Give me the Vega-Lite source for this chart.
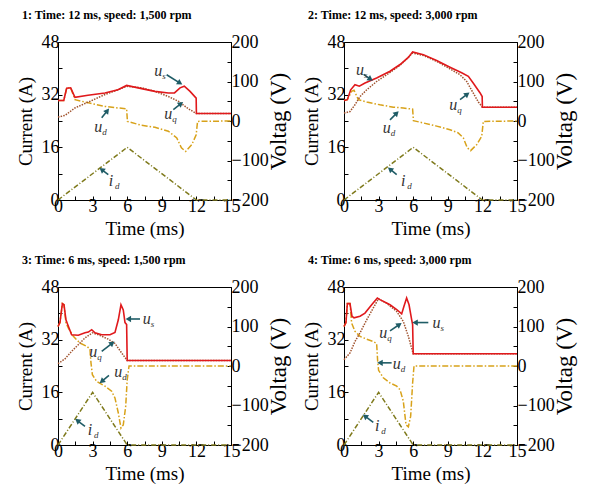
{
"$schema": "https://vega.github.io/schema/vega-lite/v6.json",
"padding": {"left": 15, "top": 8, "right": 4, "bottom": 4},
"background": "white",
"datasets": {
"cur": [
{"p":1,"t":0,"a":0},{"p":1,"t":6,"a":16},{"p":1,"t":12,"a":0},{"p":1,"t":15,"a":0},
{"p":2,"t":0,"a":0},{"p":2,"t":6,"a":16},{"p":2,"t":12,"a":0},{"p":2,"t":15,"a":0},
{"p":3,"t":0,"a":0},{"p":3,"t":3,"a":16},{"p":3,"t":6,"a":0},{"p":3,"t":15,"a":0},
{"p":4,"t":0,"a":0},{"p":4,"t":3,"a":16},{"p":4,"t":6,"a":0},{"p":4,"t":15,"a":0}
],
"volt": [
{"p":1,"s":"us","t":0,"v":52},{"p":1,"s":"us","t":0.5,"v":52},{"p":1,"s":"us","t":0.75,"v":83},{"p":1,"s":"us","t":1.1,"v":84},{"p":1,"s":"us","t":1.47,"v":60},{"p":1,"s":"us","t":2.6,"v":65},{"p":1,"s":"us","t":4.07,"v":71},{"p":1,"s":"us","t":5.2,"v":79},{"p":1,"s":"us","t":5.95,"v":90},{"p":1,"s":"us","t":7.25,"v":82},{"p":1,"s":"us","t":8.4,"v":75},{"p":1,"s":"us","t":9.57,"v":71},{"p":1,"s":"us","t":10.1,"v":71},{"p":1,"s":"us","t":10.58,"v":84},{"p":1,"s":"us","t":10.95,"v":88},{"p":1,"s":"us","t":11.45,"v":75},{"p":1,"s":"us","t":11.98,"v":58},{"p":1,"s":"us","t":12,"v":19},{"p":1,"s":"us","t":15,"v":19},
{"p":1,"s":"uq","t":0,"v":10},{"p":1,"s":"uq","t":0.6,"v":14},{"p":1,"s":"uq","t":1.47,"v":33},{"p":1,"s":"uq","t":2.63,"v":48},{"p":1,"s":"uq","t":4.07,"v":67},{"p":1,"s":"uq","t":5.2,"v":79},{"p":1,"s":"uq","t":5.95,"v":88},{"p":1,"s":"uq","t":7.25,"v":84},{"p":1,"s":"uq","t":8.4,"v":75},{"p":1,"s":"uq","t":9.57,"v":62},{"p":1,"s":"uq","t":10.43,"v":50},{"p":1,"s":"uq","t":11.3,"v":31},{"p":1,"s":"uq","t":12,"v":19},{"p":1,"s":"uq","t":15,"v":19},
{"p":1,"s":"ud","t":0,"v":52},{"p":1,"s":"ud","t":0.5,"v":52},{"p":1,"s":"ud","t":0.75,"v":83},{"p":1,"s":"ud","t":1.1,"v":84},{"p":1,"s":"ud","t":1.47,"v":54},{"p":1,"s":"ud","t":2.63,"v":46},{"p":1,"s":"ud","t":4.07,"v":37},{"p":1,"s":"ud","t":5.2,"v":33},{"p":1,"s":"ud","t":5.95,"v":31},{"p":1,"s":"ud","t":6.02,"v":-1},{"p":1,"s":"ud","t":7.25,"v":-11},{"p":1,"s":"ud","t":8.4,"v":-16},{"p":1,"s":"ud","t":9.57,"v":-26},{"p":1,"s":"ud","t":10.3,"v":-43},{"p":1,"s":"ud","t":10.7,"v":-68},{"p":1,"s":"ud","t":11.07,"v":-77},{"p":1,"s":"ud","t":11.6,"v":-60},{"p":1,"s":"ud","t":11.98,"v":-35},{"p":1,"s":"ud","t":12.1,"v":-1},{"p":1,"s":"ud","t":15,"v":0},
{"p":2,"s":"us","t":0,"v":52},{"p":2,"s":"us","t":0.29,"v":54},{"p":2,"s":"us","t":0.58,"v":79},{"p":2,"s":"us","t":0.95,"v":92},{"p":2,"s":"us","t":1.33,"v":88},{"p":2,"s":"us","t":1.82,"v":96},{"p":2,"s":"us","t":2.83,"v":109},{"p":2,"s":"us","t":3.99,"v":126},{"p":2,"s":"us","t":4.86,"v":143},{"p":2,"s":"us","t":5.58,"v":161},{"p":2,"s":"us","t":5.95,"v":175},{"p":2,"s":"us","t":6.88,"v":168},{"p":2,"s":"us","t":8.03,"v":153},{"p":2,"s":"us","t":9.19,"v":136},{"p":2,"s":"us","t":10.2,"v":122},{"p":2,"s":"us","t":10.78,"v":113},{"p":2,"s":"us","t":11.2,"v":96},{"p":2,"s":"us","t":11.8,"v":71},{"p":2,"s":"us","t":11.98,"v":62},{"p":2,"s":"us","t":12,"v":35},{"p":2,"s":"us","t":15,"v":35},
{"p":2,"s":"uq","t":0,"v":20},{"p":2,"s":"uq","t":0.52,"v":24},{"p":2,"s":"uq","t":0.95,"v":41},{"p":2,"s":"uq","t":1.39,"v":62},{"p":2,"s":"uq","t":1.97,"v":79},{"p":2,"s":"uq","t":2.83,"v":100},{"p":2,"s":"uq","t":3.99,"v":123},{"p":2,"s":"uq","t":4.86,"v":141},{"p":2,"s":"uq","t":5.95,"v":172},{"p":2,"s":"uq","t":6.88,"v":166},{"p":2,"s":"uq","t":8.03,"v":151},{"p":2,"s":"uq","t":9.19,"v":132},{"p":2,"s":"uq","t":10.06,"v":117},{"p":2,"s":"uq","t":10.64,"v":100},{"p":2,"s":"uq","t":11.2,"v":71},{"p":2,"s":"uq","t":11.65,"v":48},{"p":2,"s":"uq","t":12,"v":35},{"p":2,"s":"uq","t":15,"v":35},
{"p":2,"s":"ud","t":0,"v":52},{"p":2,"s":"ud","t":0.29,"v":54},{"p":2,"s":"ud","t":0.66,"v":75},{"p":2,"s":"ud","t":0.87,"v":78},{"p":2,"s":"ud","t":1.24,"v":54},{"p":2,"s":"ud","t":1.97,"v":48},{"p":2,"s":"ud","t":3.12,"v":41},{"p":2,"s":"ud","t":4.28,"v":35},{"p":2,"s":"ud","t":5.14,"v":33},{"p":2,"s":"ud","t":5.95,"v":30},{"p":2,"s":"ud","t":6.02,"v":1},{"p":2,"s":"ud","t":6.88,"v":-5},{"p":2,"s":"ud","t":8.03,"v":-13},{"p":2,"s":"ud","t":9.19,"v":-22},{"p":2,"s":"ud","t":9.9,"v":-30},{"p":2,"s":"ud","t":10.35,"v":-43},{"p":2,"s":"ud","t":10.69,"v":-68},{"p":2,"s":"ud","t":10.98,"v":-75},{"p":2,"s":"ud","t":11.5,"v":-60},{"p":2,"s":"ud","t":11.94,"v":-39},{"p":2,"s":"ud","t":12.08,"v":-1},{"p":2,"s":"ud","t":15,"v":0},
{"p":3,"s":"us","t":0,"v":100},{"p":3,"s":"us","t":0.17,"v":110},{"p":3,"s":"us","t":0.38,"v":158},{"p":3,"s":"us","t":0.52,"v":155},{"p":3,"s":"us","t":0.69,"v":117},{"p":3,"s":"us","t":0.84,"v":105},{"p":3,"s":"us","t":1.18,"v":79},{"p":3,"s":"us","t":1.76,"v":78},{"p":3,"s":"us","t":2.34,"v":84},{"p":3,"s":"us","t":2.63,"v":86},{"p":3,"s":"us","t":2.92,"v":92},{"p":3,"s":"us","t":3.21,"v":84},{"p":3,"s":"us","t":3.79,"v":79},{"p":3,"s":"us","t":4.51,"v":79},{"p":3,"s":"us","t":4.94,"v":85},{"p":3,"s":"us","t":5.23,"v":117},{"p":3,"s":"us","t":5.46,"v":155},{"p":3,"s":"us","t":5.66,"v":142},{"p":3,"s":"us","t":5.81,"v":110},{"p":3,"s":"us","t":5.95,"v":105},{"p":3,"s":"us","t":6,"v":14},{"p":3,"s":"us","t":15,"v":14},
{"p":3,"s":"uq","t":0,"v":6},{"p":3,"s":"uq","t":0.6,"v":18},{"p":3,"s":"uq","t":1.18,"v":37},{"p":3,"s":"uq","t":1.76,"v":54},{"p":3,"s":"uq","t":2.34,"v":71},{"p":3,"s":"uq","t":2.98,"v":84},{"p":3,"s":"uq","t":3.5,"v":79},{"p":3,"s":"uq","t":4.36,"v":68},{"p":3,"s":"uq","t":4.94,"v":57},{"p":3,"s":"uq","t":5.52,"v":33},{"p":3,"s":"uq","t":6,"v":14},{"p":3,"s":"uq","t":15,"v":14},
{"p":3,"s":"ud","t":0,"v":100},{"p":3,"s":"ud","t":0.17,"v":110},{"p":3,"s":"ud","t":0.38,"v":158},{"p":3,"s":"ud","t":0.52,"v":155},{"p":3,"s":"ud","t":0.69,"v":109},{"p":3,"s":"ud","t":0.9,"v":96},{"p":3,"s":"ud","t":1.33,"v":75},{"p":3,"s":"ud","t":1.91,"v":58},{"p":3,"s":"ud","t":2.49,"v":50},{"p":3,"s":"ud","t":2.77,"v":43},{"p":3,"s":"ud","t":2.86,"v":8},{"p":3,"s":"ud","t":2.98,"v":-22},{"p":3,"s":"ud","t":3.35,"v":-39},{"p":3,"s":"ud","t":4.07,"v":-51},{"p":3,"s":"ud","t":4.65,"v":-64},{"p":3,"s":"ud","t":4.94,"v":-81},{"p":3,"s":"ud","t":5.23,"v":-119},{"p":3,"s":"ud","t":5.46,"v":-157},{"p":3,"s":"ud","t":5.66,"v":-149},{"p":3,"s":"ud","t":5.87,"v":-102},{"p":3,"s":"ud","t":6.0,"v":-35},{"p":3,"s":"ud","t":6.16,"v":0},{"p":3,"s":"ud","t":15,"v":0},
{"p":4,"s":"us","t":0,"v":100},{"p":4,"s":"us","t":0.17,"v":110},{"p":4,"s":"us","t":0.29,"v":158},{"p":4,"s":"us","t":0.52,"v":158},{"p":4,"s":"us","t":0.69,"v":126},{"p":4,"s":"us","t":0.87,"v":122},{"p":4,"s":"us","t":1.39,"v":126},{"p":4,"s":"us","t":1.82,"v":134},{"p":4,"s":"us","t":2.4,"v":155},{"p":4,"s":"us","t":2.89,"v":172},{"p":4,"s":"us","t":3.12,"v":168},{"p":4,"s":"us","t":3.99,"v":155},{"p":4,"s":"us","t":4.57,"v":143},{"p":4,"s":"us","t":5.0,"v":132},{"p":4,"s":"us","t":5.2,"v":151},{"p":4,"s":"us","t":5.43,"v":172},{"p":4,"s":"us","t":5.64,"v":155},{"p":4,"s":"us","t":5.87,"v":117},{"p":4,"s":"us","t":5.95,"v":105},{"p":4,"s":"us","t":6,"v":31},{"p":4,"s":"us","t":15,"v":31},
{"p":4,"s":"uq","t":0,"v":16},{"p":4,"s":"uq","t":0.52,"v":33},{"p":4,"s":"uq","t":0.95,"v":62},{"p":4,"s":"uq","t":1.39,"v":84},{"p":4,"s":"uq","t":1.97,"v":117},{"p":4,"s":"uq","t":2.54,"v":147},{"p":4,"s":"uq","t":2.98,"v":170},{"p":4,"s":"uq","t":3.7,"v":159},{"p":4,"s":"uq","t":4.57,"v":138},{"p":4,"s":"uq","t":5.14,"v":113},{"p":4,"s":"uq","t":5.58,"v":75},{"p":4,"s":"uq","t":6,"v":31},{"p":4,"s":"uq","t":15,"v":31},
{"p":4,"s":"ud","t":0,"v":100},{"p":4,"s":"ud","t":0.17,"v":110},{"p":4,"s":"ud","t":0.29,"v":158},{"p":4,"s":"ud","t":0.52,"v":158},{"p":4,"s":"ud","t":0.66,"v":109},{"p":4,"s":"ud","t":0.95,"v":88},{"p":4,"s":"ud","t":1.39,"v":75},{"p":4,"s":"ud","t":1.97,"v":68},{"p":4,"s":"ud","t":2.54,"v":62},{"p":4,"s":"ud","t":2.83,"v":57},{"p":4,"s":"ud","t":2.92,"v":12},{"p":4,"s":"ud","t":3.0,"v":-11},{"p":4,"s":"ud","t":3.41,"v":-30},{"p":4,"s":"ud","t":3.99,"v":-43},{"p":4,"s":"ud","t":4.57,"v":-51},{"p":4,"s":"ud","t":4.86,"v":-60},{"p":4,"s":"ud","t":5.14,"v":-89},{"p":4,"s":"ud","t":5.38,"v":-149},{"p":4,"s":"ud","t":5.58,"v":-154},{"p":4,"s":"ud","t":5.78,"v":-127},{"p":4,"s":"ud","t":5.95,"v":-43},{"p":4,"s":"ud","t":6.07,"v":0},{"p":4,"s":"ud","t":15,"v":0}
],
"arr": [
{"p":1,"t":9.42,"v":117,"t2":10.58,"v2":96},{"p":1,"t":10.0,"v":29,"t2":10.66,"v2":44},{"p":1,"t":3.79,"v":8,"t2":4.28,"v2":26},{"p":1,"t":4.36,"v":-136,"t2":3.79,"v2":-123},
{"p":2,"t":1.7,"v":118,"t2":2.3,"v2":106},{"p":2,"t":10.06,"v":54,"t2":10.69,"v2":68},{"p":2,"t":3.99,"v":3,"t2":4.57,"v2":20},{"p":2,"t":4.57,"v":-136,"t2":3.99,"v2":-122},
{"p":3,"t":7.11,"v":119,"t2":6.1,"v2":119},{"p":3,"t":3.79,"v":37,"t2":4.71,"v2":58},{"p":3,"t":4.42,"v":-24,"t2":3.79,"v2":-39},{"p":3,"t":2.34,"v":-153,"t2":1.68,"v2":-138},
{"p":4,"t":7.31,"v":110,"t2":6.16,"v2":110},{"p":4,"t":3.99,"v":89,"t2":4.8,"v2":105},{"p":4,"t":4.13,"v":8,"t2":3.12,"v2":8},{"p":4,"t":2.54,"v":-143,"t2":1.82,"v2":-127}
],
"lab": [
{"p":1,"t":8.7,"v":127,"m":"u","s":"s"},{"p":1,"t":9.57,"v":18,"m":"u","s":"q"},{"p":1,"t":3.5,"v":-16,"m":"u","s":"d"},{"p":1,"t":4.6,"v":-151,"m":"i","s":"d"},
{"p":2,"t":1.39,"v":130,"m":"u","s":"s"},{"p":2,"t":9.48,"v":41,"m":"u","s":"q"},{"p":2,"t":3.7,"v":-18,"m":"u","s":"d"},{"p":2,"t":5.14,"v":-153,"m":"i","s":"d"},
{"p":3,"t":7.69,"v":119,"m":"u","s":"s"},{"p":3,"t":3.06,"v":35,"m":"u","s":"q"},{"p":3,"t":5.23,"v":-16,"m":"u","s":"d"},{"p":3,"t":2.77,"v":-161,"m":"i","s":"d"},
{"p":4,"t":8.03,"v":109,"m":"u","s":"s"},{"p":4,"t":3.41,"v":84,"m":"u","s":"q"},{"p":4,"t":4.57,"v":6,"m":"u","s":"d"},{"p":4,"t":2.89,"v":-151,"m":"i","s":"d"}
]
},
"columns": 2,
"spacing": {"row": 87, "column": 113},
"bounds": "flush",
"concat": [
{"width":173,"height":158,
 "title":{"text":"1: Time: 12 ms, speed: 1,500 rpm"},
 "layer":[
  {"data":{"name":"cur"},"transform":[{"filter":"datum.p == 1"}],
   "mark":{"type":"line","color":"#7f7a1c","strokeDash":[5,2,1,2],"strokeWidth":1.5},
   "encoding":{"x":{"field":"t","type":"quantitative","scale":{"domain":[0,15],"nice":false},"axis":{"title":"Time (ms)","titleX":86.5,"titleY":28,"titleBaseline":"middle","labelPadding":1,"values":[0,1.5,3,4.5,6,7.5,9,10.5,12,13.5,15],"labelExpr":"datum.value % 3 == 0 ? datum.label : ''"}},
     "y":{"field":"a","type":"quantitative","scale":{"domain":[0,48],"nice":false},"axis":{"title":"Current (A)","orient":"left","titleX":-33,"titleY":79,"titleAngle":270,"titleAlign":"center","titleBaseline":"middle","labelPadding":3,"values":[0,8,16,24,32,40,48],"labelExpr":"datum.value % 16 == 0 ? datum.label : ''"}}}},
  {"encoding":{"x":{"field":"t","type":"quantitative","scale":{"domain":[0,15],"nice":false},"axis":{"title":"Time (ms)","titleX":86.5,"titleY":28,"titleBaseline":"middle","labelPadding":1,"values":[0,1.5,3,4.5,6,7.5,9,10.5,12,13.5,15],"labelExpr":"datum.value % 3 == 0 ? datum.label : ''"}},
     "y":{"field":"v","type":"quantitative","scale":{"domain":[-200,200],"nice":false},"axis":{"title":"Voltag (V)","orient":"right","titleFontSize":23,"titleX":47,"titleY":79,"titleAngle":270,"titleAlign":"center","titleBaseline":"middle","labelPadding":4,"values":[-200,-150,-100,-50,0,50,100,150,200],"labelExpr":"datum.value % 100 == 0 ? datum.label : ''"}}},
   "layer":[
    {"data":{"name":"volt"},"transform":[{"filter":"datum.p == 1 && datum.s == 'ud'"}],"mark":{"type":"line","color":"#d8a21a","strokeDash":[6,2,1.5,2],"strokeWidth":1.5}},
    {"data":{"name":"volt"},"transform":[{"filter":"datum.p == 1 && datum.s == 'uq'"}],"mark":{"type":"line","color":"#a0522d","strokeDash":[1.5,1.2],"strokeWidth":1.5}},
    {"data":{"name":"volt"},"transform":[{"filter":"datum.p == 1 && datum.s == 'us'"}],"mark":{"type":"line","color":"#e0191c","strokeWidth":1.6}},
    {"data":{"name":"arr"},"transform":[{"filter":"datum.p == 1"}],"mark":{"type":"rule","color":"#1f5c66","strokeWidth":1.6},"encoding":{"x2":{"field":"t2"},"y2":{"field":"v2"}}},
    {"data":{"name":"arr"},"transform":[{"filter":"datum.p == 1"},{"calculate":"atan2((datum.t2-datum.t)*173/15,(datum.v2-datum.v)*158/400)*180/PI","as":"ang"}],"mark":{"type":"point","shape":"triangle-up","filled":true,"color":"#1f5c66","size":40,"opacity":1},"encoding":{"x":{"field":"t2","type":"quantitative"},"y":{"field":"v2","type":"quantitative"},"angle":{"field":"ang","type":"quantitative","scale":null}}},
    {"data":{"name":"lab"},"transform":[{"filter":"datum.p == 1"}],"mark":{"type":"text","font":"Liberation Serif","fontStyle":"italic","fontSize":16,"color":"#333"},"encoding":{"text":{"field":"m"}}},
    {"data":{"name":"lab"},"transform":[{"filter":"datum.p == 1"}],"mark":{"type":"text","font":"Liberation Serif","fontStyle":"italic","fontSize":9,"color":"#333","align":"left","dx":4,"dy":5},"encoding":{"text":{"field":"s"}}}
   ]}
 ],
 "resolve":{"scale":{"y":"independent"}}},
{"width":173,"height":158,
 "title":{"text":"2: Time: 12 ms, speed: 3,000 rpm"},
 "layer":[
  {"data":{"name":"cur"},"transform":[{"filter":"datum.p == 2"}],
   "mark":{"type":"line","color":"#7f7a1c","strokeDash":[5,2,1,2],"strokeWidth":1.5},
   "encoding":{"x":{"field":"t","type":"quantitative","scale":{"domain":[0,15],"nice":false},"axis":{"title":"Time (ms)","titleX":86.5,"titleY":28,"titleBaseline":"middle","labelPadding":1,"values":[0,1.5,3,4.5,6,7.5,9,10.5,12,13.5,15],"labelExpr":"datum.value % 3 == 0 ? datum.label : ''"}},
     "y":{"field":"a","type":"quantitative","scale":{"domain":[0,48],"nice":false},"axis":{"title":"Current (A)","orient":"left","titleX":-33,"titleY":79,"titleAngle":270,"titleAlign":"center","titleBaseline":"middle","labelPadding":3,"values":[0,8,16,24,32,40,48],"labelExpr":"datum.value % 16 == 0 ? datum.label : ''"}}}},
  {"encoding":{"x":{"field":"t","type":"quantitative","scale":{"domain":[0,15],"nice":false},"axis":{"title":"Time (ms)","titleX":86.5,"titleY":28,"titleBaseline":"middle","labelPadding":1,"values":[0,1.5,3,4.5,6,7.5,9,10.5,12,13.5,15],"labelExpr":"datum.value % 3 == 0 ? datum.label : ''"}},
     "y":{"field":"v","type":"quantitative","scale":{"domain":[-200,200],"nice":false},"axis":{"title":"Voltag (V)","orient":"right","titleFontSize":23,"titleX":47,"titleY":79,"titleAngle":270,"titleAlign":"center","titleBaseline":"middle","labelPadding":4,"values":[-200,-150,-100,-50,0,50,100,150,200],"labelExpr":"datum.value % 100 == 0 ? datum.label : ''"}}},
   "layer":[
    {"data":{"name":"volt"},"transform":[{"filter":"datum.p == 2 && datum.s == 'ud'"}],"mark":{"type":"line","color":"#d8a21a","strokeDash":[6,2,1.5,2],"strokeWidth":1.5}},
    {"data":{"name":"volt"},"transform":[{"filter":"datum.p == 2 && datum.s == 'uq'"}],"mark":{"type":"line","color":"#a0522d","strokeDash":[1.5,1.2],"strokeWidth":1.5}},
    {"data":{"name":"volt"},"transform":[{"filter":"datum.p == 2 && datum.s == 'us'"}],"mark":{"type":"line","color":"#e0191c","strokeWidth":1.6}},
    {"data":{"name":"arr"},"transform":[{"filter":"datum.p == 2"}],"mark":{"type":"rule","color":"#1f5c66","strokeWidth":1.6},"encoding":{"x2":{"field":"t2"},"y2":{"field":"v2"}}},
    {"data":{"name":"arr"},"transform":[{"filter":"datum.p == 2"},{"calculate":"atan2((datum.t2-datum.t)*173/15,(datum.v2-datum.v)*158/400)*180/PI","as":"ang"}],"mark":{"type":"point","shape":"triangle-up","filled":true,"color":"#1f5c66","size":40,"opacity":1},"encoding":{"x":{"field":"t2","type":"quantitative"},"y":{"field":"v2","type":"quantitative"},"angle":{"field":"ang","type":"quantitative","scale":null}}},
    {"data":{"name":"lab"},"transform":[{"filter":"datum.p == 2"}],"mark":{"type":"text","font":"Liberation Serif","fontStyle":"italic","fontSize":16,"color":"#333"},"encoding":{"text":{"field":"m"}}},
    {"data":{"name":"lab"},"transform":[{"filter":"datum.p == 2"}],"mark":{"type":"text","font":"Liberation Serif","fontStyle":"italic","fontSize":9,"color":"#333","align":"left","dx":4,"dy":5},"encoding":{"text":{"field":"s"}}}
   ]}
 ],
 "resolve":{"scale":{"y":"independent"}}},
{"width":173,"height":158,
 "title":{"text":"3: Time: 6 ms, speed: 1,500 rpm"},
 "layer":[
  {"data":{"name":"cur"},"transform":[{"filter":"datum.p == 3"}],
   "mark":{"type":"line","color":"#7f7a1c","strokeDash":[5,2,1,2],"strokeWidth":1.5},
   "encoding":{"x":{"field":"t","type":"quantitative","scale":{"domain":[0,15],"nice":false},"axis":{"title":"Time (ms)","titleX":86.5,"titleY":28,"titleBaseline":"middle","labelPadding":1,"values":[0,1.5,3,4.5,6,7.5,9,10.5,12,13.5,15],"labelExpr":"datum.value % 3 == 0 ? datum.label : ''"}},
     "y":{"field":"a","type":"quantitative","scale":{"domain":[0,48],"nice":false},"axis":{"title":"Current (A)","orient":"left","titleX":-33,"titleY":79,"titleAngle":270,"titleAlign":"center","titleBaseline":"middle","labelPadding":3,"values":[0,8,16,24,32,40,48],"labelExpr":"datum.value % 16 == 0 ? datum.label : ''"}}}},
  {"encoding":{"x":{"field":"t","type":"quantitative","scale":{"domain":[0,15],"nice":false},"axis":{"title":"Time (ms)","titleX":86.5,"titleY":28,"titleBaseline":"middle","labelPadding":1,"values":[0,1.5,3,4.5,6,7.5,9,10.5,12,13.5,15],"labelExpr":"datum.value % 3 == 0 ? datum.label : ''"}},
     "y":{"field":"v","type":"quantitative","scale":{"domain":[-200,200],"nice":false},"axis":{"title":"Voltag (V)","orient":"right","titleFontSize":23,"titleX":47,"titleY":79,"titleAngle":270,"titleAlign":"center","titleBaseline":"middle","labelPadding":4,"values":[-200,-150,-100,-50,0,50,100,150,200],"labelExpr":"datum.value % 100 == 0 ? datum.label : ''"}}},
   "layer":[
    {"data":{"name":"volt"},"transform":[{"filter":"datum.p == 3 && datum.s == 'ud'"}],"mark":{"type":"line","color":"#d8a21a","strokeDash":[6,2,1.5,2],"strokeWidth":1.5}},
    {"data":{"name":"volt"},"transform":[{"filter":"datum.p == 3 && datum.s == 'uq'"}],"mark":{"type":"line","color":"#a0522d","strokeDash":[1.5,1.2],"strokeWidth":1.5}},
    {"data":{"name":"volt"},"transform":[{"filter":"datum.p == 3 && datum.s == 'us'"}],"mark":{"type":"line","color":"#e0191c","strokeWidth":1.6}},
    {"data":{"name":"arr"},"transform":[{"filter":"datum.p == 3"}],"mark":{"type":"rule","color":"#1f5c66","strokeWidth":1.6},"encoding":{"x2":{"field":"t2"},"y2":{"field":"v2"}}},
    {"data":{"name":"arr"},"transform":[{"filter":"datum.p == 3"},{"calculate":"atan2((datum.t2-datum.t)*173/15,(datum.v2-datum.v)*158/400)*180/PI","as":"ang"}],"mark":{"type":"point","shape":"triangle-up","filled":true,"color":"#1f5c66","size":40,"opacity":1},"encoding":{"x":{"field":"t2","type":"quantitative"},"y":{"field":"v2","type":"quantitative"},"angle":{"field":"ang","type":"quantitative","scale":null}}},
    {"data":{"name":"lab"},"transform":[{"filter":"datum.p == 3"}],"mark":{"type":"text","font":"Liberation Serif","fontStyle":"italic","fontSize":16,"color":"#333"},"encoding":{"text":{"field":"m"}}},
    {"data":{"name":"lab"},"transform":[{"filter":"datum.p == 3"}],"mark":{"type":"text","font":"Liberation Serif","fontStyle":"italic","fontSize":9,"color":"#333","align":"left","dx":4,"dy":5},"encoding":{"text":{"field":"s"}}}
   ]}
 ],
 "resolve":{"scale":{"y":"independent"}}},
{"width":173,"height":158,
 "title":{"text":"4: Time: 6 ms, speed: 3,000 rpm"},
 "layer":[
  {"data":{"name":"cur"},"transform":[{"filter":"datum.p == 4"}],
   "mark":{"type":"line","color":"#7f7a1c","strokeDash":[5,2,1,2],"strokeWidth":1.5},
   "encoding":{"x":{"field":"t","type":"quantitative","scale":{"domain":[0,15],"nice":false},"axis":{"title":"Time (ms)","titleX":86.5,"titleY":28,"titleBaseline":"middle","labelPadding":1,"values":[0,1.5,3,4.5,6,7.5,9,10.5,12,13.5,15],"labelExpr":"datum.value % 3 == 0 ? datum.label : ''"}},
     "y":{"field":"a","type":"quantitative","scale":{"domain":[0,48],"nice":false},"axis":{"title":"Current (A)","orient":"left","titleX":-33,"titleY":79,"titleAngle":270,"titleAlign":"center","titleBaseline":"middle","labelPadding":3,"values":[0,8,16,24,32,40,48],"labelExpr":"datum.value % 16 == 0 ? datum.label : ''"}}}},
  {"encoding":{"x":{"field":"t","type":"quantitative","scale":{"domain":[0,15],"nice":false},"axis":{"title":"Time (ms)","titleX":86.5,"titleY":28,"titleBaseline":"middle","labelPadding":1,"values":[0,1.5,3,4.5,6,7.5,9,10.5,12,13.5,15],"labelExpr":"datum.value % 3 == 0 ? datum.label : ''"}},
     "y":{"field":"v","type":"quantitative","scale":{"domain":[-200,200],"nice":false},"axis":{"title":"Voltag (V)","orient":"right","titleFontSize":23,"titleX":47,"titleY":79,"titleAngle":270,"titleAlign":"center","titleBaseline":"middle","labelPadding":4,"values":[-200,-150,-100,-50,0,50,100,150,200],"labelExpr":"datum.value % 100 == 0 ? datum.label : ''"}}},
   "layer":[
    {"data":{"name":"volt"},"transform":[{"filter":"datum.p == 4 && datum.s == 'ud'"}],"mark":{"type":"line","color":"#d8a21a","strokeDash":[6,2,1.5,2],"strokeWidth":1.5}},
    {"data":{"name":"volt"},"transform":[{"filter":"datum.p == 4 && datum.s == 'uq'"}],"mark":{"type":"line","color":"#a0522d","strokeDash":[1.5,1.2],"strokeWidth":1.5}},
    {"data":{"name":"volt"},"transform":[{"filter":"datum.p == 4 && datum.s == 'us'"}],"mark":{"type":"line","color":"#e0191c","strokeWidth":1.6}},
    {"data":{"name":"arr"},"transform":[{"filter":"datum.p == 4"}],"mark":{"type":"rule","color":"#1f5c66","strokeWidth":1.6},"encoding":{"x2":{"field":"t2"},"y2":{"field":"v2"}}},
    {"data":{"name":"arr"},"transform":[{"filter":"datum.p == 4"},{"calculate":"atan2((datum.t2-datum.t)*173/15,(datum.v2-datum.v)*158/400)*180/PI","as":"ang"}],"mark":{"type":"point","shape":"triangle-up","filled":true,"color":"#1f5c66","size":40,"opacity":1},"encoding":{"x":{"field":"t2","type":"quantitative"},"y":{"field":"v2","type":"quantitative"},"angle":{"field":"ang","type":"quantitative","scale":null}}},
    {"data":{"name":"lab"},"transform":[{"filter":"datum.p == 4"}],"mark":{"type":"text","font":"Liberation Serif","fontStyle":"italic","fontSize":16,"color":"#333"},"encoding":{"text":{"field":"m"}}},
    {"data":{"name":"lab"},"transform":[{"filter":"datum.p == 4"}],"mark":{"type":"text","font":"Liberation Serif","fontStyle":"italic","fontSize":9,"color":"#333","align":"left","dx":4,"dy":5},"encoding":{"text":{"field":"s"}}}
   ]}
 ],
 "resolve":{"scale":{"y":"independent"}}}
],
"config": {
 "view": {"stroke": "black", "strokeWidth": 1},
 "axis": {"grid": false, "domainColor": "black", "domainWidth": 1, "tickColor": "black", "tickSize": -4, "labelFont": "Liberation Serif", "titleFont": "Liberation Serif", "labelFontSize": 18, "titleFontSize": 19, "titleFontWeight": "normal", "labelColor": "black", "titleColor": "black", "labelFlush": false, "labelOverlap": false, "labelBound": false},
 "title": {"font": "Liberation Serif", "fontSize": 12, "fontWeight": "bold", "color": "black", "anchor": "start", "frame": "group", "dx": -36, "offset": 11, "baseline": "middle"}
}
}
